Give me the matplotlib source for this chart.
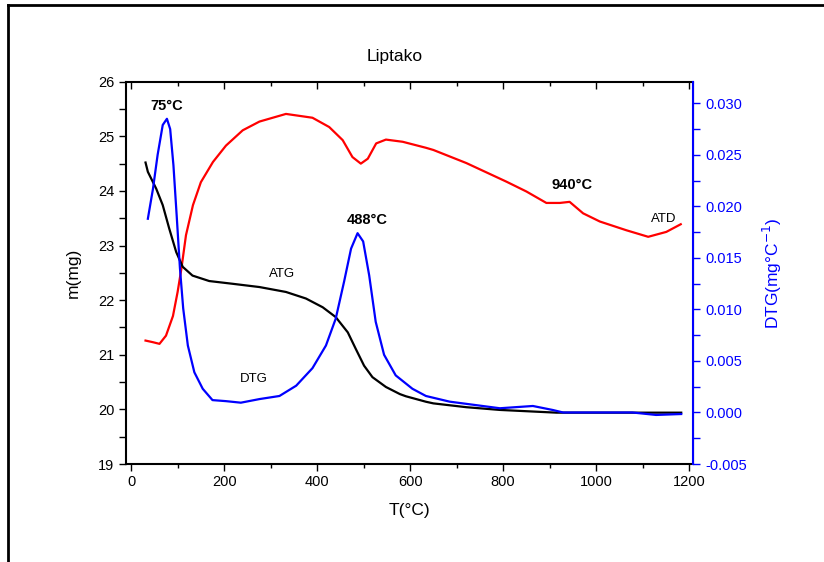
import matplotlib
matplotlib.use("Agg")
import matplotlib.pyplot as plt
from matplotlib.ticker import MultipleLocator
from matplotlib.lines import Line2D

plt.rcParams['font.family'] = ['Liberation Sans', 'DejaVu Sans']

# ATG (mass, left axis)
atg_T = [31, 36, 54, 68, 82, 97, 111, 132, 168, 218, 276, 333, 376, 412, 440, 466, 483, 501, 519, 548,
         578, 591, 634, 650, 721, 793, 915, 1183]
atg_m = [24.52, 24.35, 24.04, 23.74, 23.31, 22.88, 22.61, 22.45, 22.35, 22.30, 22.24, 22.15, 22.03, 21.87,
         21.69, 21.41, 21.11, 20.80, 20.59, 20.41, 20.28, 20.24, 20.14, 20.11, 20.04, 19.99, 19.94, 19.94]

# DTG (right axis)
dtg_T = [36, 47, 57, 68, 77, 84, 91, 98, 105, 112, 122, 136, 154, 175, 204, 236, 276, 319, 355, 390, 419,
         440, 458, 473, 487, 499, 512, 526, 544, 569, 605, 634, 685, 793, 864, 907, 929, 1078, 1129, 1183]
dtg_v = [0.0188, 0.0217, 0.0250, 0.0279, 0.0285, 0.0275, 0.0240, 0.0191, 0.0140, 0.0101, 0.0065, 0.0039,
         0.0023, 0.0012, 0.0011, 0.00095, 0.0013, 0.0016, 0.0026, 0.0043, 0.0065, 0.0091, 0.0127, 0.0159,
         0.0174, 0.0166, 0.0133, 0.0088, 0.0056, 0.0036, 0.0023, 0.0016, 0.00105, 0.00041, 0.00063, 0.00024,
         0.0, 0.0, -0.00024, -0.00015]

# ATD (drawn on left scale)
atd_T = [31, 47, 61, 75, 90, 100, 108, 118, 133, 150, 176, 204, 240, 276, 333, 390, 426, 455, 476, 494,
         509, 527, 548, 584, 634, 650, 721, 807, 850, 893, 922, 943, 972, 1008, 1065, 1112, 1151, 1182]
atd_v = [21.26, 21.23, 21.20, 21.35, 21.71, 22.15, 22.57, 23.19, 23.74, 24.16, 24.53, 24.83, 25.11, 25.27,
         25.41, 25.34, 25.17, 24.93, 24.62, 24.50, 24.59, 24.87, 24.94, 24.90, 24.79, 24.75, 24.51, 24.17,
         23.99, 23.78, 23.78, 23.80, 23.59, 23.44, 23.28, 23.16, 23.25, 23.39]

x_ticks = [0, 200, 400, 600, 800, 1000, 1200]
y_ticks = [19, 20, 21, 22, 23, 24, 25, 26]
y2_ticks = [-0.005, 0.000, 0.005, 0.010, 0.015, 0.020, 0.025, 0.030]

fig = plt.figure(figsize=(8.24, 5.62), dpi=100)
ax = fig.add_axes([126/824, 1-464/562, (693.3-126)/824, (464-81.7)/562])
ax2 = ax.twinx()

ax.plot(atd_T, atd_v, color='#ff0000', lw=1.6)
ax.plot(atg_T, atg_m, color='black', lw=1.6)
ax2.plot(dtg_T, dtg_v, color='#0000ff', lw=1.6)

ax.set_xlim(-11, 1209)
ax.set_ylim(19, 26)
ax2.set_ylim(-0.005, 0.0321)

ax.set_xticks(x_ticks)
ax.xaxis.set_minor_locator(MultipleLocator(100))
ax.set_yticks(y_ticks)
ax.yaxis.set_minor_locator(MultipleLocator(0.5))
ax2.set_yticks(y2_ticks)
ax2.set_yticklabels([f"{v:.3f}" for v in y2_ticks])
ax2.yaxis.set_minor_locator(MultipleLocator(0.0025))

ax.tick_params(axis='x', which='both', direction='out', top=True, labelsize=10.5, pad=3)
ax.tick_params(axis='x', which='major', length=5, width=1)
ax.tick_params(axis='x', which='minor', length=3, width=1)
ax.tick_params(axis='y', which='both', direction='out', length=5, width=1, labelsize=10.5)
ax.xaxis.set_ticks_position('both')
ax.tick_params(axis='x', which='both', top=True)
# top ticks inward
for t in ax.xaxis.get_major_ticks() + ax.xaxis.get_minor_ticks():
    t.tick2line.set_marker(3)  # TICKDOWN
ax2.tick_params(axis='y', which='both', direction='out', length=5, width=1, colors='#0000ff', labelsize=10.5)

for s in ['left', 'bottom', 'top']:
    ax.spines[s].set_linewidth(1.5)
ax2.spines['right'].set_color('#0000ff')
ax2.spines['right'].set_linewidth(1.5)
ax2.spines['left'].set_visible(False)
ax2.spines['top'].set_visible(False)
ax2.spines['bottom'].set_visible(False)

ax.set_xlabel('T(°C)', fontsize=12.5, labelpad=10)
ax.set_ylabel('m(mg)', fontsize=12.5, labelpad=12)
ax2.set_ylabel('DTG(mg°C$^{-1}$)', fontsize=12.5, color='#0000ff', labelpad=10)

fig.text(395/824, 1-57/562, 'Liptako', ha='center', va='center', fontsize=12.5)

ax.text(77, 25.55, '75°C', ha='center', va='center', fontsize=10.5, fontweight='bold')
ax.text(507, 23.46, '488°C', ha='center', va='center', fontsize=10.5, fontweight='bold')
ax.text(948, 24.11, '940°C', ha='center', va='center', fontsize=10.5, fontweight='bold')
ax.text(324, 22.48, 'ATG', ha='center', va='center', fontsize=9.5)
ax.text(264, 20.56, 'DTG', ha='center', va='center', fontsize=9.5)
ax.text(1146, 23.49, 'ATD', ha='center', va='center', fontsize=9.5)

# frame lines of the figure
fig.add_artist(Line2D([8/824, 8/824], [0, 1-5/562], transform=fig.transFigure, color='black', lw=2))
fig.add_artist(Line2D([8/824, 1], [1-5/562, 1-5/562], transform=fig.transFigure, color='black', lw=2))

fig.savefig('out.png', dpi=100)
